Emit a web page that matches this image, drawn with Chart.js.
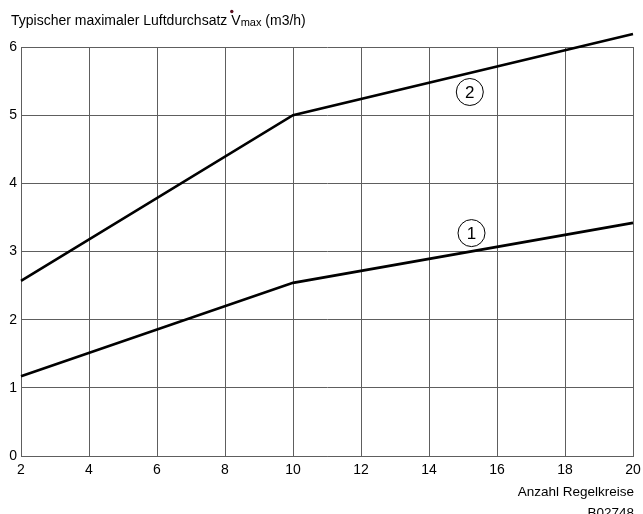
<!DOCTYPE html>
<html>
<head>
<meta charset="utf-8">
<script src="https://cdn.jsdelivr.net/npm/chart.js@4/dist/chart.umd.min.js"></script>
<style>
  html, body { margin: 0; padding: 0; background: #fff; }
  canvas { display: block; }
</style>
</head>
<body>
<canvas id="chart" width="643" height="514"></canvas>
<script>
// Typical max air throughput vs number of control loops, two curves.
const xTicks = [2, 4, 6, 8, 10, 12, 14, 16, 18, 20];
const yTicks = [0, 1, 2, 3, 4, 5, 6];

const curve1X = [2, 10, 20];
const curve1Y = [1.17, 2.54, 3.42];
const curve2X = [2, 10, 20];
const curve2Y = [2.57, 5.0, 6.19];

// circled curve numbers: [label, x, y]
const markers = [["1", 15.25, 3.27], ["2", 15.2, 5.34]];

const FONT = "Liberation Sans, Arial, sans-serif";
const GRID = "#5e5e5e";

const pts = (xs, ys) => xs.map((x, i) => ({ x, y: ys[i] }));

const decor = {
  id: "decor",
  afterDraw(chart) {
    const ctx = chart.ctx;
    const { x, y } = chart.scales;
    ctx.save();
    ctx.fillStyle = "#000";
    ctx.textBaseline = "alphabetic";

    // title with dotted V and subscript
    ctx.font = `14px ${FONT}`;
    ctx.textAlign = "left";
    let px = 11, base = 25;
    const t1 = "Typischer maximaler Luftdurchsatz";
    ctx.fillText(t1, px, base);
    px += ctx.measureText(t1).width + 4;
    ctx.fillText("V", px, base);
    ctx.fillStyle = "#5a0f1e";
    ctx.beginPath();
    ctx.arc(px + 0.5, 11.5, 1.7, 0, Math.PI * 2);
    ctx.fill();
    ctx.fillStyle = "#000";
    px += ctx.measureText("V").width;
    ctx.font = `11px ${FONT}`;
    ctx.fillText("max", px, base + 1);
    px += ctx.measureText("max").width;
    ctx.font = `14px ${FONT}`;
    ctx.fillText(" (m3/h)", px, base);

    // bottom right texts
    ctx.textAlign = "right";
    ctx.font = `13.5px ${FONT}`;
    ctx.fillText("Anzahl Regelkreise", 634, 496);
    ctx.fillText("B02748", 634, 517);

    // circled numbers
    ctx.lineWidth = 1;
    ctx.strokeStyle = "#000";
    ctx.textAlign = "center";
    ctx.textBaseline = "middle";
    ctx.font = `17px ${FONT}`;
    markers.forEach(([lbl, mx, my]) => {
      const cx = x.getPixelForValue(mx);
      const cy = y.getPixelForValue(my);
      ctx.beginPath();
      ctx.arc(cx, cy, 13.5, 0, Math.PI * 2);
      ctx.stroke();
      ctx.fillText(lbl, cx, cy + 1);
    });
    ctx.restore();
  },
};

new Chart(document.getElementById("chart"), {
  type: "scatter",
  data: {
    datasets: [
      { data: pts(curve1X, curve1Y) },
      { data: pts(curve2X, curve2Y) },
    ].map((d) => ({
      ...d,
      showLine: true,
      borderColor: "#000",
      borderWidth: 2.6,
      pointRadius: 0,
      clip: false,
    })),
  },
  options: {
    responsive: false,
    animation: false,
    events: [],
    layout: { padding: { top: 47, right: 10, bottom: 38, left: 0 } },
    plugins: { legend: { display: false }, tooltip: { enabled: false } },
    scales: {
      x: {
        type: "linear",
        min: 2, max: 20,
        afterBuildTicks: (s) => { s.ticks = xTicks.map((v) => ({ value: v })); },
        afterFit: (s) => { s.height = 20; s.paddingLeft = 0; s.paddingRight = 0; },
        grid: { color: GRID, lineWidth: 1, drawTicks: false },
        border: { color: GRID, width: 1 },
        ticks: { color: "#000", font: { family: FONT, size: 14 }, padding: 6, maxRotation: 0 },
      },
      y: {
        type: "linear",
        min: 0, max: 6,
        afterBuildTicks: (s) => { s.ticks = yTicks.map((v) => ({ value: v })); },
        afterFit: (s) => { s.width = 21; s.paddingTop = 0; s.paddingBottom = 0; },
        grid: { color: GRID, lineWidth: 1, drawTicks: false },
        border: { color: GRID, width: 1 },
        ticks: { color: "#000", font: { family: FONT, size: 14 }, padding: 4 },
      },
    },
  },
  plugins: [decor],
});
</script>
</body>
</html>
